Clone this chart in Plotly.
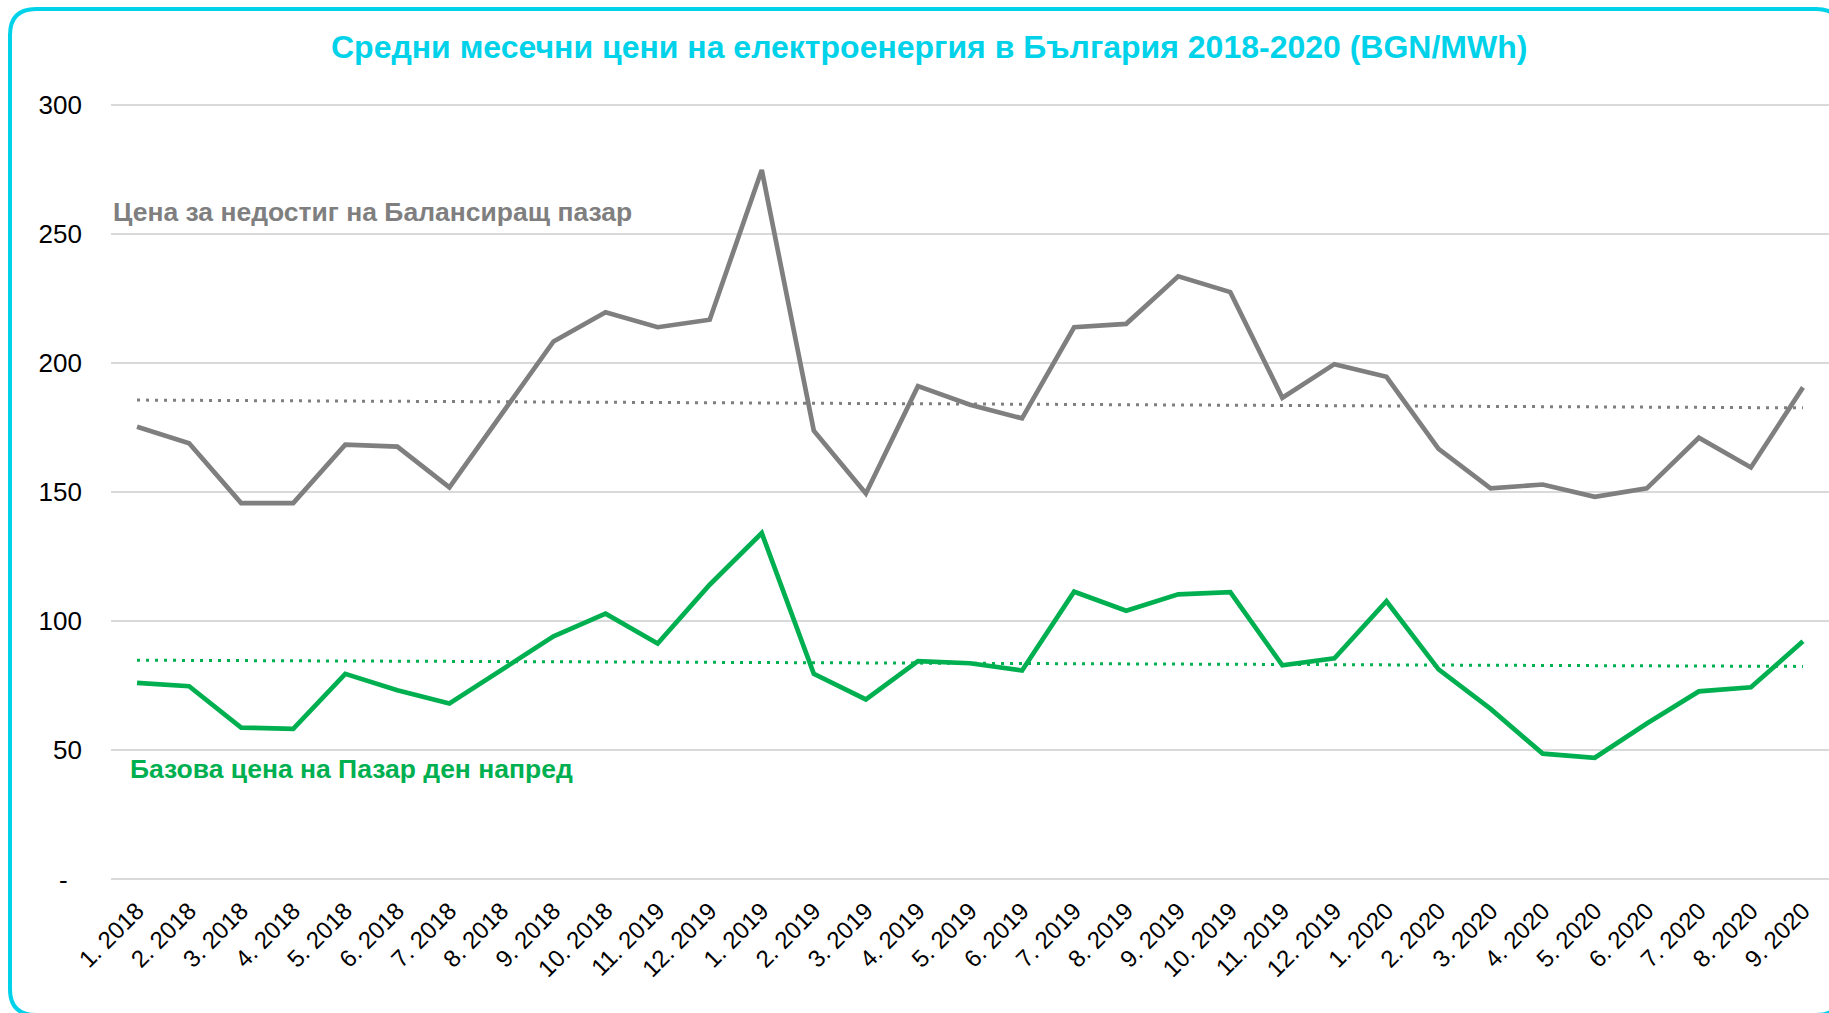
import numpy as np
import plotly.graph_objects as go

months = ["1. 2018", "2. 2018", "3. 2018", "4. 2018", "5. 2018", "6. 2018", "7. 2018",
          "8. 2018", "9. 2018", "10. 2018", "11. 2019", "12. 2019", "1. 2019", "2. 2019",
          "3. 2019", "4. 2019", "5. 2019", "6. 2019", "7. 2019", "8. 2019", "9. 2019",
          "10. 2019", "11. 2019", "12. 2019", "1. 2020", "2. 2020", "3. 2020", "4. 2020",
          "5. 2020", "6. 2020", "7. 2020", "8. 2020", "9. 2020"]

balancing_shortage = [175.3, 168.9, 145.7, 145.7, 168.3, 167.6, 151.8, 180.0, 208.3, 219.6,
                      213.8, 216.7, 274.7, 173.7, 149.4, 191.0, 183.8, 178.5, 213.8, 215.1,
                      233.5, 227.4, 186.5, 199.5, 194.6, 166.7, 151.4, 152.9, 148.1, 151.4,
                      171.0, 159.5, 190.5]

day_ahead_base = [76.1, 74.8, 58.8, 58.3, 79.6, 73.2, 68.1, 81.3, 94.1, 102.9,
                  91.3, 114.1, 134.1, 79.6, 69.7, 84.5, 83.7, 80.9, 111.4, 104.0,
                  110.4, 111.2, 82.9, 85.6, 107.7, 81.3, 66.0, 48.7, 47.1, 60.4,
                  72.8, 74.4, 92.2]

y_ticks = [0, 50, 100, 150, 200, 250, 300]
y_tick_text = ["-\u2007", "50", "100", "150", "200", "250", "300"]

title_text = "Средни месечни цени на електроенергия в България 2018-2020 (BGN/MWh)"
label_gray = "Цена за недостиг на Балансиращ пазар"
label_green = "Базова цена на Пазар ден напред"

GRAY = "#7F7F7F"
GREEN = "#00B050"
CYAN = "#00D2EA"
FONT = "Liberation Sans, Arial, sans-serif"

W, H = 1829, 1013
Y_MIN, Y_MAX, Y_PAD = 0, 300, 1.0
Y_BOT_PX, Y_TOP_PX = 879.5, 105.0          # pixel rows of 0 and 300
UNIT = (Y_BOT_PX - Y_TOP_PX) / (Y_MAX - Y_MIN)
ML, MR = 111, 0
MT = Y_TOP_PX - Y_PAD * UNIT
MB = H - (Y_BOT_PX + Y_PAD * UNIT)
PW = W - ML - MR
PH = H - MT - MB


def px(x):
    return (x - ML) / PW


def py(y):
    return (H - MB - y) / PH


xs = list(range(len(months)))
x_arr = np.array(xs, dtype=float)

fig = go.Figure()

# linear trendlines (least squares fit of each series)
for series, col in [(balancing_shortage, GRAY), (day_ahead_base, GREEN)]:
    k, b = np.polyfit(x_arr, np.array(series), 1)
    fig.add_trace(go.Scatter(x=xs, y=list(k * x_arr + b), mode="lines",
                             line=dict(color=col, width=3, dash="3px,6px"),
                             hoverinfo="skip", showlegend=False))

fig.add_trace(go.Scatter(x=xs, y=balancing_shortage, mode="lines",
                         line=dict(color=GRAY, width=4.7), name=label_gray, showlegend=False))
fig.add_trace(go.Scatter(x=xs, y=day_ahead_base, mode="lines",
                         line=dict(color=GREEN, width=4.7), name=label_green, showlegend=False))

fig.update_layout(
    width=W, height=H,
    margin=dict(l=ML, r=MR, t=MT, b=MB, autoexpand=False),
    paper_bgcolor="white", plot_bgcolor="white",
    font=dict(family=FONT, color="black"),
    showlegend=False,
    xaxis=dict(
        range=[-0.5, len(months) - 0.5],
        tickmode="array", tickvals=xs, ticktext=months,
        tickangle=-45, tickfont=dict(size=24, color="black", family=FONT),
        showgrid=False, zeroline=False, showline=False, ticks="",
        ticklabelstandoff=9, automargin=False,
    ),
    yaxis=dict(
        range=[Y_MIN - Y_PAD, Y_MAX + Y_PAD],
        tickmode="array", tickvals=y_ticks, ticktext=y_tick_text,
        tickfont=dict(size=26, color="black", family=FONT),
        showgrid=True, gridcolor="#D9D9D9", gridwidth=1.5,
        zeroline=False, showline=False, ticks="",
        ticklabelstandoff=28, automargin=False,
    ),
)

# rounded border frame
x0, x1 = px(10), px(1842)
y0, y1 = py(9.5), py(1015)
r = 26
rx, ry = r / PW, r / PH
path = (f"M {x0 + rx},{y0} L {x1 - rx},{y0} Q {x1},{y0} {x1},{y0 - ry} "
        f"L {x1},{y1 + ry} Q {x1},{y1} {x1 - rx},{y1} "
        f"L {x0 + rx},{y1} Q {x0},{y1} {x0},{y1 + ry} "
        f"L {x0},{y0 - ry} Q {x0},{y0} {x0 + rx},{y0} Z")
fig.add_shape(type="path", path=path, xref="paper", yref="paper",
              line=dict(color=CYAN, width=4), fillcolor="rgba(0,0,0,0)", layer="above")

fig.add_annotation(text=f"<b>{title_text}</b>", xref="paper", yref="paper",
                   x=px(929), y=py(47), xanchor="center", yanchor="middle",
                   showarrow=False, font=dict(size=32, color=CYAN, family=FONT))
fig.add_annotation(text=f"<b>{label_gray}</b>", xref="paper", yref="paper",
                   x=px(111), y=py(212), xanchor="left", yanchor="middle",
                   showarrow=False, font=dict(size=26.5, color=GRAY, family=FONT))
fig.add_annotation(text=f"<b>{label_green}</b>", xref="paper", yref="paper",
                   x=px(128), y=py(769), xanchor="left", yanchor="middle",
                   showarrow=False, font=dict(size=26.5, color=GREEN, family=FONT))

fig.write_html("out.html", config={"displayModeBar": False},
               post_script="document.body.style.margin='0';")
